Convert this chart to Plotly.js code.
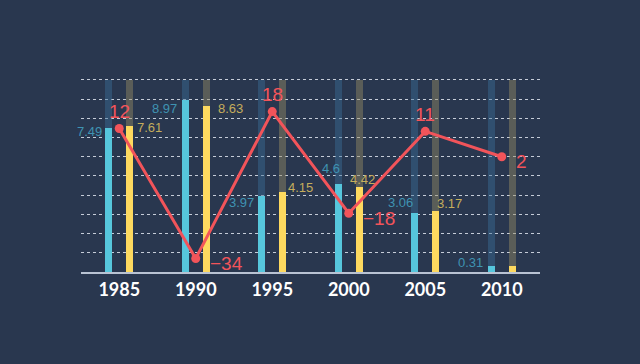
<!DOCTYPE html>
<html>
<head>
<meta charset="utf-8">
<script src="https://cdn.plot.ly/plotly-3.0.1.min.js"></script>
<style>html,body{margin:0;padding:0;background:#29374f;}#chart{width:640px;height:364px;}</style>
</head>
<body>
<div id="chart"></div>
<script>
// ---- data ----
const years = ["1985", "1990", "1995", "2000", "2005", "2010"];
const seriesA = [7.49, 8.97, 3.97, 4.6, 3.06, 0.31];
const seriesB = [7.61, 8.63, 4.15, 4.42, 3.17, 0.3];
const seriesBLabels = ["7.61", "8.63", "4.15", "4.42", "3.17", ""];
const lineValues = [12, -34, 18, -18, 11, 2];
const barMax = 10;

// ---- style ----
const BG = "#29374f";
const BLUE = "#56c6dc", YELLOW = "#fdd95f", RED = "#f2545a";
const BAR_W = 0.092, OFF = 0.136;
// label nudges in px (dx, dy; dy positive = up) for the bar value labels
const nudgeAx = [-2, -4, -3, 6, 3, -4];
const nudgeAy = [-3, -9, -7, 15, 11, 4];
const nudgeBx = [3, 7, 1, -14, -3, 0];
const nudgeBy = [-2, -2, 5, 8, 8, 0];

const idx = years.map((_, i) => i);
const shadowVals = years.map(() => barMax);

const traces = [
  {type: "bar", x: idx, y: shadowVals, width: BAR_W, offset: -OFF - BAR_W / 2,
   marker: {color: "rgba(58,108,150,0.45)"}, hoverinfo: "skip", showlegend: false},
  {type: "bar", x: idx, y: shadowVals, width: BAR_W, offset: OFF - BAR_W / 2,
   marker: {color: "rgba(150,140,100,0.45)"}, hoverinfo: "skip", showlegend: false},
  {type: "bar", x: idx, y: seriesA, width: BAR_W, offset: -OFF - BAR_W / 2,
   marker: {color: BLUE}, showlegend: false},
  {type: "bar", x: idx, y: seriesB, width: BAR_W, offset: OFF - BAR_W / 2,
   marker: {color: YELLOW}, showlegend: false},
  {type: "scatter", mode: "lines+markers", x: idx, y: lineValues, yaxis: "y2",
   line: {color: RED, width: 3}, marker: {color: RED, size: 9}, showlegend: false, cliponaxis: false}
];

const annotations = [];
idx.forEach(i => {
  annotations.push({x: i - OFF - BAR_W / 2, y: seriesA[i], xref: "x", yref: "y",
    text: String(seriesA[i]), showarrow: false, xanchor: "right", yanchor: "middle",
    xshift: nudgeAx[i], yshift: nudgeAy[i], borderpad: 0,
    font: {family: "Liberation Sans, Arial", size: 13, color: "#3f93b2"}});
  if (seriesBLabels[i]) annotations.push({x: i + OFF + BAR_W / 2, y: seriesB[i], xref: "x", yref: "y",
    text: seriesBLabels[i], showarrow: false, xanchor: "left", yanchor: "middle",
    xshift: nudgeBx[i], yshift: nudgeBy[i], borderpad: 0,
    font: {family: "Liberation Sans, Arial", size: 13, color: "#c4ad5c"}});
  const v = lineValues[i];
  const prev = i > 0 ? lineValues[i - 1] : -Infinity;
  const next = i < lineValues.length - 1 ? lineValues[i + 1] : -Infinity;
  const peak = v > prev && v > next;
  const txt = v < 0 ? "\u2212" + Math.abs(v) : String(v);
  annotations.push(peak ?
    {x: i, y: v, xref: "x", yref: "y2", text: txt, showarrow: false, xanchor: "center",
     yanchor: "middle", yshift: 17, borderpad: 0, font: {family: "Liberation Sans, Arial", size: 19, color: RED}} :
    {x: i, y: v, xref: "x", yref: "y2", text: txt, showarrow: false, xanchor: "left",
     yanchor: "middle", xshift: 13, yshift: -5, borderpad: 0, font: {family: "Liberation Sans, Arial", size: 19, color: RED}});
});

// plot area: bars axis 0..10.1 mapped over 194 px so that 10 sits at the top gridline
const layout = {
  width: 640, height: 364,
  paper_bgcolor: BG, plot_bgcolor: BG,
  margin: {l: 81, r: 100, t: 78, b: 92},
  barmode: "overlay",
  bargap: 0,
  showlegend: false,
  xaxis: {range: [-0.5, 5.5], tickmode: "array", tickvals: idx, ticktext: years,
    showgrid: false, zeroline: false, showline: true, linecolor: "#b9c3d3", linewidth: 2,
    ticks: "", tickfont: {family: "Lato, sans-serif", size: 18, color: "#ffffff", weight: "bold"},
    fixedrange: true},
  yaxis: {range: [0, 10.1], dtick: 1, showticklabels: false, zeroline: false,
    showgrid: true, gridcolor: "rgba(225,230,240,0.85)", gridwidth: 1, griddash: "dot",
    fixedrange: true},
  yaxis2: {range: [-38.8, 29.9], overlaying: "y", showgrid: false, zeroline: false,
    showticklabels: false, fixedrange: true},
  annotations: annotations
};

Plotly.newPlot("chart", traces, layout, {displayModeBar: false, staticPlot: true});
</script>
</body>
</html>
